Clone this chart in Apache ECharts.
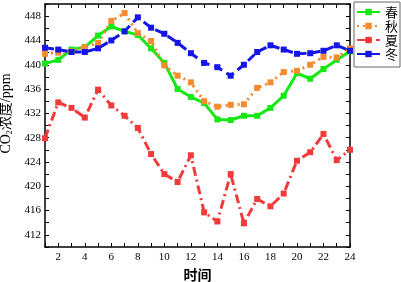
<!DOCTYPE html>
<html>
<head>
<meta charset="UTF-8">
<title>CO2浓度</title>
<script src="https://cdn.jsdelivr.net/npm/echarts@6/dist/echarts.min.js"></script>
<style>
  html, body { margin: 0; padding: 0; background: #fff; }
  #main { width: 401px; height: 282px; }
</style>
</head>
<body>
<div id="main"></div>
<script type="text/javascript">
// hours 1..24
var hours = [1, 2, 3, 4, 5, 6, 7, 8, 9, 10, 11, 12, 13, 14, 15, 16, 17, 18, 19, 20, 21, 22, 23, 24];
var seasonNames = ['春', '秋', '夏', '冬'];
var spring = [440.2, 440.8, 442.5, 442.9, 444.8, 446.3, 445.5, 444.9, 442.7, 440.3, 436.0, 434.7,
              433.7, 431.0, 430.9, 431.6, 431.6, 432.9, 434.9, 438.6, 437.7, 439.3, 440.8, 442.2];
var autumn = [441.8, 442.0, 442.2, 442.9, 443.6, 447.2, 448.5, 445.2, 443.9, 439.9, 438.2, 437.1,
              434.0, 433.1, 433.4, 433.5, 436.2, 437.1, 438.8, 439.0, 440.0, 441.3, 441.2, 442.7];
var summer = [427.9, 433.8, 432.9, 431.3, 435.9, 433.3, 431.6, 429.6, 425.3, 422.0, 420.7, 425.1,
              415.7, 414.2, 422.0, 413.9, 417.9, 416.7, 418.8, 424.2, 425.6, 428.6, 424.3, 426.0];
var winter = [442.8, 442.5, 442.1, 442.1, 442.7, 444.0, 445.5, 447.8, 446.1, 445.1, 443.6, 441.9,
              440.3, 439.6, 438.2, 440.0, 442.1, 443.2, 442.5, 441.8, 441.9, 442.3, 443.2, 442.3];

function pairs(vals) {
  var out = [];
  for (var i = 0; i < hours.length; i++) {
    out.push([hours[i], vals[i]]);
  }
  return out;
}

var fontFam = 'Liberation Serif, "Noto Sans CJK SC", serif';

var chart = echarts.init(document.getElementById('main'));

function makeSeries(name, vals, color, dash) {
  return {
    name: name,
    type: 'line',
    data: pairs(vals),
    symbol: 'rect',
    symbolSize: 6,
    showAllSymbol: true,
    itemStyle: { color: color },
    lineStyle: { color: color, width: 3, type: dash },
    z: 3
  };
}

chart.setOption({
  animation: false,
  backgroundColor: '#fff',
  textStyle: { fontFamily: fontFam },
  grid: { left: 45, right: 51, top: 4, bottom: 35, outerBoundsMode: 'none', containLabel: false },
  legend: {
    orient: 'vertical',
    left: 354,
    top: 2,
    padding: [3, 2, 6, 2],
    itemGap: 0,
    itemWidth: 23,
    itemHeight: 8,
    borderColor: '#666',
    borderWidth: 1,
    data: seasonNames,
    textStyle: { fontSize: 13, lineHeight: 14, color: '#000', fontFamily: '"Noto Sans CJK SC", serif' }
  },
  xAxis: [{
    type: 'value',
    min: 1,
    max: 24,
    interval: 1,
    name: '时间',
    nameLocation: 'middle',
    nameGap: 21,
    nameTextStyle: { fontSize: 14, color: '#000', fontWeight: 'bold', fontFamily: '"Noto Sans CJK SC", serif' },
    axisLine: { lineStyle: { color: '#000', width: 1.5 } },
    axisTick: { inside: true, length: 4, lineStyle: { color: '#000' } },
    axisLabel: {
      margin: 5,
      fontSize: 11,
      color: '#000',
      formatter: function (v) { return v % 2 === 0 ? String(v) : ''; }
    },
    splitLine: { show: false }
  }, {
    type: 'value',
    position: 'top',
    min: 1,
    max: 24,
    interval: 1,
    axisLine: { show: true, lineStyle: { color: '#000', width: 1.5 } },
    axisTick: { inside: true, length: 4, lineStyle: { color: '#000' } },
    axisLabel: { show: false },
    splitLine: { show: false }
  }],
  yAxis: [{
    type: 'value',
    min: 410,
    max: 450,
    interval: 2,
    name: '{a|CO}{b|2}{a|浓度/ppm}',
    nameLocation: 'middle',
    nameGap: 28,
    nameTextStyle: {
      color: '#000',
      padding: [0, 0, 0, 24],
      rich: {
        a: { fontSize: 14, color: '#000', fontFamily: fontFam },
        b: { fontSize: 8, color: '#000', fontFamily: fontFam, verticalAlign: 'bottom', padding: [6, 0, 0, 0] }
      }
    },
    axisLine: { show: true, lineStyle: { color: '#000', width: 1.5 } },
    axisTick: { inside: true, length: 4, lineStyle: { color: '#000' } },
    axisLabel: {
      margin: 4,
      fontSize: 11,
      color: '#000',
      formatter: function (v) { return v % 4 === 0 ? String(v) : ''; }
    },
    splitLine: { show: false }
  }, {
    type: 'value',
    position: 'right',
    min: 410,
    max: 450,
    interval: 2,
    axisLine: { show: true, lineStyle: { color: '#000', width: 1.5 } },
    axisTick: { inside: true, length: 4, lineStyle: { color: '#000' } },
    axisLabel: { show: false },
    splitLine: { show: false }
  }],
  series: [
    makeSeries('春', spring, '#16e816', 'solid'),
    makeSeries('秋', autumn, '#f58a2e', [2, 4]),
    makeSeries('夏', summer, '#f23a3a', [9, 4, 2, 4]),
    makeSeries('冬', winter, '#1515e6', [9, 5])
  ]
});
</script>
</body>
</html>
